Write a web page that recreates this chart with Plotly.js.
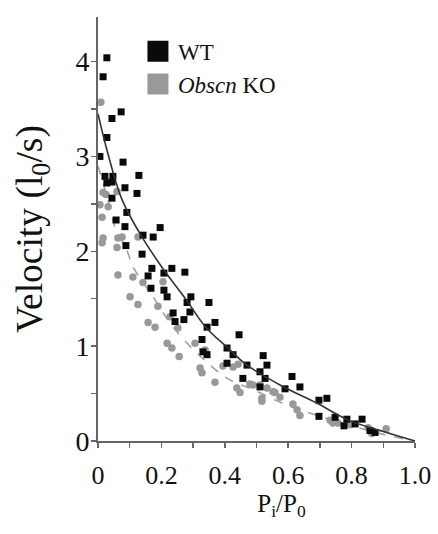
<!DOCTYPE html>
<html>
<head>
<meta charset="utf-8">
<script src="https://cdn.plot.ly/plotly-3.0.1.min.js"></script>
<style>html,body{margin:0;padding:0;background:#fff;}#chart{width:438px;height:534px;}</style>
</head>
<body>
<div id="chart"></div>
<script>
// WT (black squares)
const wtX = [0.028,0.016,0.073,0.044,0.028,0.006,0.079,0.022,0.047,0.129,0.028,0.044,0.085,0.123,0.044,0.091,0.057,0.085,0.196,0.142,0.174,0.088,0.139,0.170,0.233,0.274,0.158,0.208,0.167,0.208,0.218,0.293,0.281,0.350,0.290,0.237,0.243,0.271,0.344,0.369,0.328,0.331,0.344,0.445,0.407,0.426,0.407,0.470,0.521,0.457,0.511,0.533,0.511,0.527,0.590,0.612,0.637,0.697,0.722,0.697,0.748,0.785,0.776,0.833,0.811,0.858,0.874];
const wtY = [4.04,3.84,3.47,3.40,3.20,3.00,2.94,2.79,2.79,2.80,2.72,2.73,2.67,2.61,2.56,2.41,2.33,2.26,2.25,2.17,2.15,2.06,1.97,1.82,1.82,1.78,1.74,1.77,1.61,1.59,1.52,1.52,1.46,1.46,1.36,1.35,1.26,1.28,1.20,1.25,1.07,0.94,0.91,1.12,0.98,0.91,0.82,0.80,0.90,0.66,0.73,0.80,0.57,0.66,0.55,0.68,0.57,0.43,0.45,0.26,0.25,0.23,0.16,0.23,0.18,0.11,0.09];
// Obscn KO (gray circles)
const koX = [0.009,0.016,0.006,0.032,0.013,0.016,0.013,0.063,0.060,0.076,0.126,0.063,0.110,0.142,0.205,0.101,0.126,0.189,0.227,0.158,0.180,0.252,0.218,0.233,0.256,0.306,0.338,0.322,0.328,0.369,0.394,0.426,0.442,0.438,0.448,0.479,0.517,0.511,0.533,0.552,0.574,0.517,0.615,0.628,0.637,0.732,0.741,0.757,0.795,0.852,0.864,0.909,0.489,0.558,0.025,0.060];
const koY = [3.57,2.62,2.49,2.47,2.36,2.14,2.09,2.14,2.04,2.15,2.15,1.75,1.73,1.67,1.68,1.52,1.44,1.42,1.31,1.25,1.20,1.19,1.03,0.98,0.89,1.03,0.96,0.77,0.72,0.62,0.79,0.78,0.81,0.56,0.51,0.60,0.45,0.59,0.56,0.52,0.46,0.42,0.39,0.33,0.27,0.22,0.19,0.19,0.17,0.14,0.08,0.13,0.59,0.51,2.60,2.63];
// fitted curves
const wtFitX = [0.0,0.028,0.075,0.13,0.2,0.28,0.34,0.41,0.47,0.58,0.69,0.79,0.9,1.0];
const wtFitY = [3.45,3.07,2.55,2.2,1.84,1.48,1.2,0.98,0.80,0.58,0.40,0.22,0.10,0.0];
const koFitX = [0.0,0.038,0.054,0.09,0.11,0.142,0.174,0.2,0.237,0.29,0.34,0.39,0.43,0.49,0.58,0.7,0.8,0.9,1.0];
const koFitY = [2.9,2.46,2.25,2.02,1.84,1.67,1.52,1.38,1.2,1.0,0.84,0.70,0.62,0.54,0.40,0.26,0.16,0.07,0.0];
const xTickVals = [0,0.2,0.4,0.6,0.8,1.0];
const xTickText = ['0','0.2','0.4','0.6','0.8','1.0'];
const yTickVals = [0,1,2,3,4];
const yTickText = ['0','1','2','3','4'];

const serif = "'Liberation Serif'";
const traces = [
  {x: koFitX, y: koFitY, mode: 'lines', line: {color: '#a0a0a0', width: 1.6, dash: 'dash', shape: 'spline'}, showlegend: false, hoverinfo: 'skip'},
  {x: koX, y: koY, mode: 'markers', marker: {symbol: 'circle', size: 7.5, color: '#999999'}, showlegend: false},
  {x: wtX, y: wtY, mode: 'markers', marker: {symbol: 'square', size: 7, color: '#0a0a0a'}, showlegend: false},
  {x: wtFitX, y: wtFitY, mode: 'lines', line: {color: '#333333', width: 1.6, shape: 'spline'}, showlegend: false, hoverinfo: 'skip'},
  {x: [null], y: [null], mode: 'markers', name: 'WT', marker: {symbol: 'square', size: 20, color: '#0a0a0a', line: {color: '#0a0a0a', width: 5}}},
  {x: [null], y: [null], mode: 'markers', name: '<i>Obscn</i> KO', marker: {symbol: 'square', size: 20, color: '#999999', line: {color: '#999999', width: 5}}}
];
const layout = {
  width: 438, height: 534,
  margin: {l: 98, r: 23, t: 17, b: 93},
  paper_bgcolor: '#fff', plot_bgcolor: '#fff',
  font: {family: serif, color: '#111'},
  showlegend: true,
  legend: {x: 0.126, y: 0.97, xanchor: 'left', yanchor: 'top', font: {size: 23, family: serif, color: '#111'}, bgcolor: 'rgba(0,0,0,0)', itemsizing: 'trace'},
  xaxis: {
    range: [0, 1.0], showgrid: false, zeroline: false, showline: true, linecolor: '#666', linewidth: 2,
    tickmode: 'array', tickvals: xTickVals, ticktext: xTickText, ticks: 'outside', ticklen: 5, tickwidth: 1.5, tickcolor: '#666',
    minor: {dtick: 0.1, ticks: 'outside', ticklen: 5, tickwidth: 1.5, tickcolor: '#666', showgrid: false},
    tickfont: {size: 26, family: serif, color: '#111'}, ticklabelstandoff: 5,
    title: {text: '&nbsp;&nbsp;&nbsp;&nbsp;&nbsp;&nbsp;&nbsp;&nbsp;P<sub>i</sub>/P<sub>0</sub>', font: {size: 25, family: serif, color: '#111'}, standoff: 0}
  },
  yaxis: {
    range: [0, 4.47], showgrid: false, zeroline: false, showline: true, linecolor: '#666', linewidth: 2,
    tickmode: 'array', tickvals: yTickVals, ticktext: yTickText, ticks: 'outside', ticklen: 5, tickwidth: 1.5, tickcolor: '#666',
    minor: {dtick: 0.5, ticks: 'outside', ticklen: 5, tickwidth: 1.5, tickcolor: '#666', showgrid: false},
    tickfont: {size: 28, family: serif, color: '#111'}, ticklabelstandoff: -4,
    title: {text: 'Velocity (l<sub>0</sub>/s)', font: {size: 37.5, family: serif, color: '#111'}, standoff: 21}
  }
};
Plotly.newPlot('chart', traces, layout, {displayModeBar: false, staticPlot: true});
</script>
</body>
</html>
